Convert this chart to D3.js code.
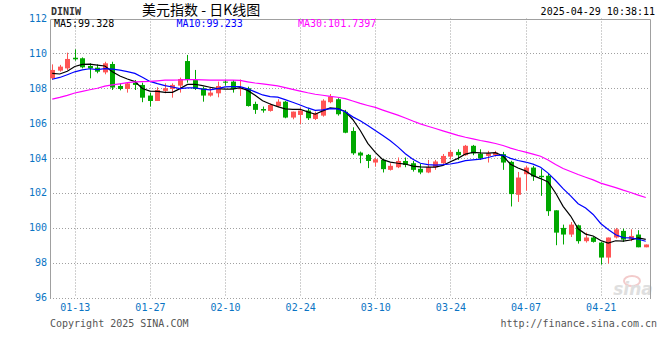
<!DOCTYPE html>
<html><head><meta charset="utf-8">
<script src="https://cdn.jsdelivr.net/npm/d3@7/dist/d3.min.js"></script>
<style>body{margin:0;background:#fff}svg{display:block}</style>
</head><body><svg id="c" width="660" height="360"></svg>
<script>
// ---------- data ----------
const dates = ["01-08","01-09","01-10","01-13","01-14","01-15","01-16","01-17","01-20","01-21","01-22","01-23","01-24",
"01-27","01-28","01-29","01-30","01-31","02-03","02-04","02-05","02-06","02-07","02-10","02-11","02-12","02-13","02-14",
"02-17","02-18","02-19","02-20","02-21","02-24","02-25","02-26","02-27","02-28","03-03","03-04","03-05","03-06","03-07",
"03-10","03-11","03-12","03-13","03-14","03-17","03-18","03-19","03-20","03-21","03-24","03-25","03-26","03-27","03-28",
"03-31","04-01","04-02","04-03","04-04","04-07","04-08","04-09","04-10","04-11","04-14","04-15","04-16","04-17","04-18",
"04-21","04-22","04-23","04-24","04-25","04-28","04-29"];
const openV = [108.57,109.01,109.14,109.75,109.72,109.28,109.18,108.91,109.39,108.13,107.96,108.32,108.19,
107.58,107.27,107.85,107.96,108.15,109.56,108.47,108.00,107.58,107.71,108.38,108.38,107.96,108.00,107.10,
106.81,106.70,106.98,107.23,106.32,106.47,106.72,106.24,106.43,107.20,107.37,106.65,105.55,104.31,104.18,
103.74,103.89,103.32,103.47,103.83,103.70,103.38,103.17,103.47,103.70,104.08,104.35,104.16,104.70,104.25,
104.12,104.16,104.22,103.78,101.89,103.07,103.45,102.98,102.98,101.00,99.99,99.61,100.14,99.23,99.44,
99.15,98.29,99.44,99.82,99.32,99.61,98.88];
const highV = [109.37,109.34,110.04,110.23,109.77,109.43,109.37,109.52,109.52,108.28,108.32,108.47,108.32,
107.75,108.06,108.28,108.28,108.61,109.91,109.05,108.09,108.06,108.38,108.47,108.47,108.50,108.09,107.23,
106.95,107.14,107.37,107.27,106.66,106.91,106.85,106.66,107.37,107.67,107.43,106.76,105.76,104.37,104.23,
104.03,103.95,103.70,104.03,104.03,103.83,103.66,103.89,103.89,104.23,104.47,104.50,104.75,104.75,104.50,
104.41,104.41,104.35,103.84,103.20,103.55,103.55,103.36,103.10,101.00,100.18,100.33,100.18,99.72,99.47,
99.19,99.44,99.99,99.95,99.91,99.86,99.04];
const lowV = [108.48,108.95,109.05,109.58,109.14,108.57,108.86,108.80,107.90,107.88,107.75,107.90,107.20,
106.95,107.27,107.71,107.46,107.75,108.32,107.90,107.23,107.52,107.48,108.15,107.75,107.56,106.95,106.53,
106.60,106.66,106.91,106.28,106.22,105.94,106.18,106.18,106.37,107.14,106.43,105.42,104.18,103.70,103.42,
103.51,103.17,103.28,103.42,103.47,103.22,103.07,103.13,103.32,103.66,103.93,103.89,104.12,104.16,103.89,
103.74,104.08,103.32,101.22,101.48,102.12,102.69,101.83,100.68,99.00,99.04,99.47,99.09,99.15,99.15,
97.89,97.95,99.38,99.19,99.23,98.88,98.88];
const closeV = [109.05,109.24,109.68,109.66,109.20,109.14,108.95,109.43,108.04,107.96,108.28,108.19,107.46,
107.27,107.90,108.00,108.19,108.53,108.47,107.96,107.58,107.75,108.13,108.32,107.96,108.00,106.98,106.76,
106.72,107.04,107.23,106.32,106.66,106.72,106.28,106.57,107.29,107.52,106.51,105.45,104.27,104.14,103.83,
103.93,103.36,103.55,103.83,103.60,103.32,103.17,103.47,103.80,104.12,104.35,104.16,104.70,104.27,103.97,
104.27,104.31,103.74,101.93,102.88,103.45,102.94,102.90,100.95,99.72,99.61,100.18,99.23,99.44,99.19,
98.29,99.44,99.91,99.32,99.53,98.88,99.04];
// closes of the 29 sessions before the first shown candle (needed for the moving averages)
const prevCloses = [106.1,106.1,105.7,106.4,106.4,106.3,105.7,106.0,106.1,106.4,106.7,107.0,107.0,
106.8,106.9,108.0,108.4,107.8,108.0,108.2,108.2,108.1,108.0,108.1,108.5,109.4,108.9,108.3,108.6];
const maPeriods = [5, 10, 30];
const maLabels = ["MA5:99.328", "MA10:99.233", "MA30:101.7397"];
const yTicks = [96, 98, 100, 102, 104, 106, 108, 110, 112];
const xTickDates = ["01-13","01-27","02-10","02-24","03-10","03-24","04-07","04-21"];
const titleText = "美元指数 - 日K线图";
const symbolText = "DINIW";
const stampText = "2025-04-29 10:38:11";
const copyText = "Copyright 2025 SINA.COM";
const urlText = "http://finance.sina.com.cn";

// ---------- layout ----------
const L = 50, R = 650, T = 18.5, B = 297.5;
const svg = d3.select("#c");
const mono = "'DejaVu Sans Mono', 'Liberation Mono', monospace";
const axisBlue = "#0a74c4";
const upColor = "#ff5555", downColor = "#00a800";
const maColors = ["#000000", "#0000ff", "#ff00ff"];

const x = d3.scalePoint().domain(dates).range([48.5, 649.5]).padding(0.5);
const y = d3.scaleLinear().domain([96, 112]).range([B, T]);
const px = v => Math.round(v) + 0.5;

// watermark
const wm = svg.append("g").attr("opacity", 0.9);
wm.append("ellipse").attr("cx", 632).attr("cy", 281).attr("rx", 8).attr("ry", 5)
  .attr("fill", "none").attr("stroke", "#f2c6c6").attr("stroke-width", 2);
wm.append("text").attr("x", 633).attr("y", 295).attr("text-anchor", "middle")
  .attr("font-family", "'DejaVu Sans', sans-serif").attr("font-style", "italic").attr("font-weight", "bold")
  .attr("font-size", 17).attr("fill", "#dcdcdc").text("sina");

// horizontal gridlines
svg.append("g").selectAll("line").data(yTicks.filter(t => t < 112)).join("line")
  .attr("x1", L).attr("x2", R + 1).attr("y1", d => px(y(d))).attr("y2", d => px(y(d)))
  .attr("stroke", "#a0a0a0").attr("stroke-dasharray", "1,2");
// vertical gridlines
svg.append("g").selectAll("line").data(xTickDates).join("line")
  .attr("x1", d => px(x(d))).attr("x2", d => px(x(d))).attr("y1", T).attr("y2", B)
  .attr("stroke", "#a0a0a0").attr("stroke-dasharray", "1,2");

// frame (left, top, right)
svg.append("path").attr("d", `M${L + 0.5},${px(B)}V${px(T)}H${R + 0.5}V${px(B)}`)
  .attr("fill", "none").attr("stroke", "#a0a0a0");

// y axis labels
const yAxis = d3.axisLeft(y).tickValues(yTicks).tickSize(0).tickPadding(0);
const ya = svg.append("g").attr("transform", `translate(47,0)`).call(yAxis);
ya.select(".domain").remove();
ya.selectAll("text").attr("font-family", mono).attr("font-size", 10).attr("fill", axisBlue).attr("dy", "0.3em");

// x axis labels
const xAxis = d3.axisBottom(x).tickValues(xTickDates).tickSize(0).tickPadding(0);
const xa = svg.append("g").attr("transform", `translate(0,304)`).call(xAxis);
xa.select(".domain").remove();
xa.selectAll("text").attr("font-family", mono).attr("font-size", 10).attr("fill", axisBlue).attr("dy", "0.71em");

// candles
const idx = d3.range(dates.length);
const cg = svg.append("g");
cg.selectAll("line").data(idx).join("line")
  .attr("x1", i => px(x(dates[i]))).attr("x2", i => px(x(dates[i])))
  .attr("y1", i => y(highV[i])).attr("y2", i => y(lowV[i]))
  .attr("stroke", i => closeV[i] >= openV[i] ? upColor : downColor);
cg.selectAll("rect").data(idx).join("rect")
  .attr("x", i => Math.round(x(dates[i])) - 2).attr("width", 5)
  .attr("y", i => y(Math.max(openV[i], closeV[i])))
  .attr("height", i => Math.max(1, Math.abs(y(openV[i]) - y(closeV[i]))))
  .attr("fill", i => closeV[i] >= openV[i] ? upColor : downColor);

// moving averages
const allCloses = prevCloses.concat(closeV);
const off = prevCloses.length;
maPeriods.forEach((p, k) => {
  const pts = idx.map(i => {
    const j = i + off;
    const win = allCloses.slice(j - p + 1, j + 1);
    return [x(dates[i]), y(d3.mean(win))];
  });
  svg.append("path").attr("d", d3.line()(pts)).attr("fill", "none")
    .attr("stroke", maColors[k]).attr("stroke-width", 1.2);
});

// header texts
svg.append("text").attr("x", 51).attr("y", 15).attr("font-family", mono).attr("font-size", 10)
  .attr("font-weight", "bold").attr("fill", "#333").text(symbolText);
svg.append("text").attr("x", 142).attr("y", 15).attr("font-family", "'Noto Sans CJK SC', sans-serif")
  .attr("font-size", 14).attr("fill", "#000").text(titleText);
svg.append("text").attr("x", 655).attr("y", 15).attr("text-anchor", "end").attr("font-family", mono)
  .attr("font-size", 10).attr("fill", "#000").text(stampText);
const maX = [54, 176.5, 298];
maLabels.forEach((t, k) => {
  svg.append("text").attr("x", maX[k]).attr("y", 27).attr("font-family", mono).attr("font-size", 10)
    .attr("fill", maColors[k]).text(t);
});

// footer
svg.append("text").attr("x", 50).attr("y", 327).attr("font-family", mono).attr("font-size", 10)
  .attr("fill", "#555").text(copyText);
svg.append("text").attr("x", 657).attr("y", 327).attr("text-anchor", "end").attr("font-family", mono)
  .attr("font-size", 10).attr("fill", "#555").text(urlText);
</script></body></html>
